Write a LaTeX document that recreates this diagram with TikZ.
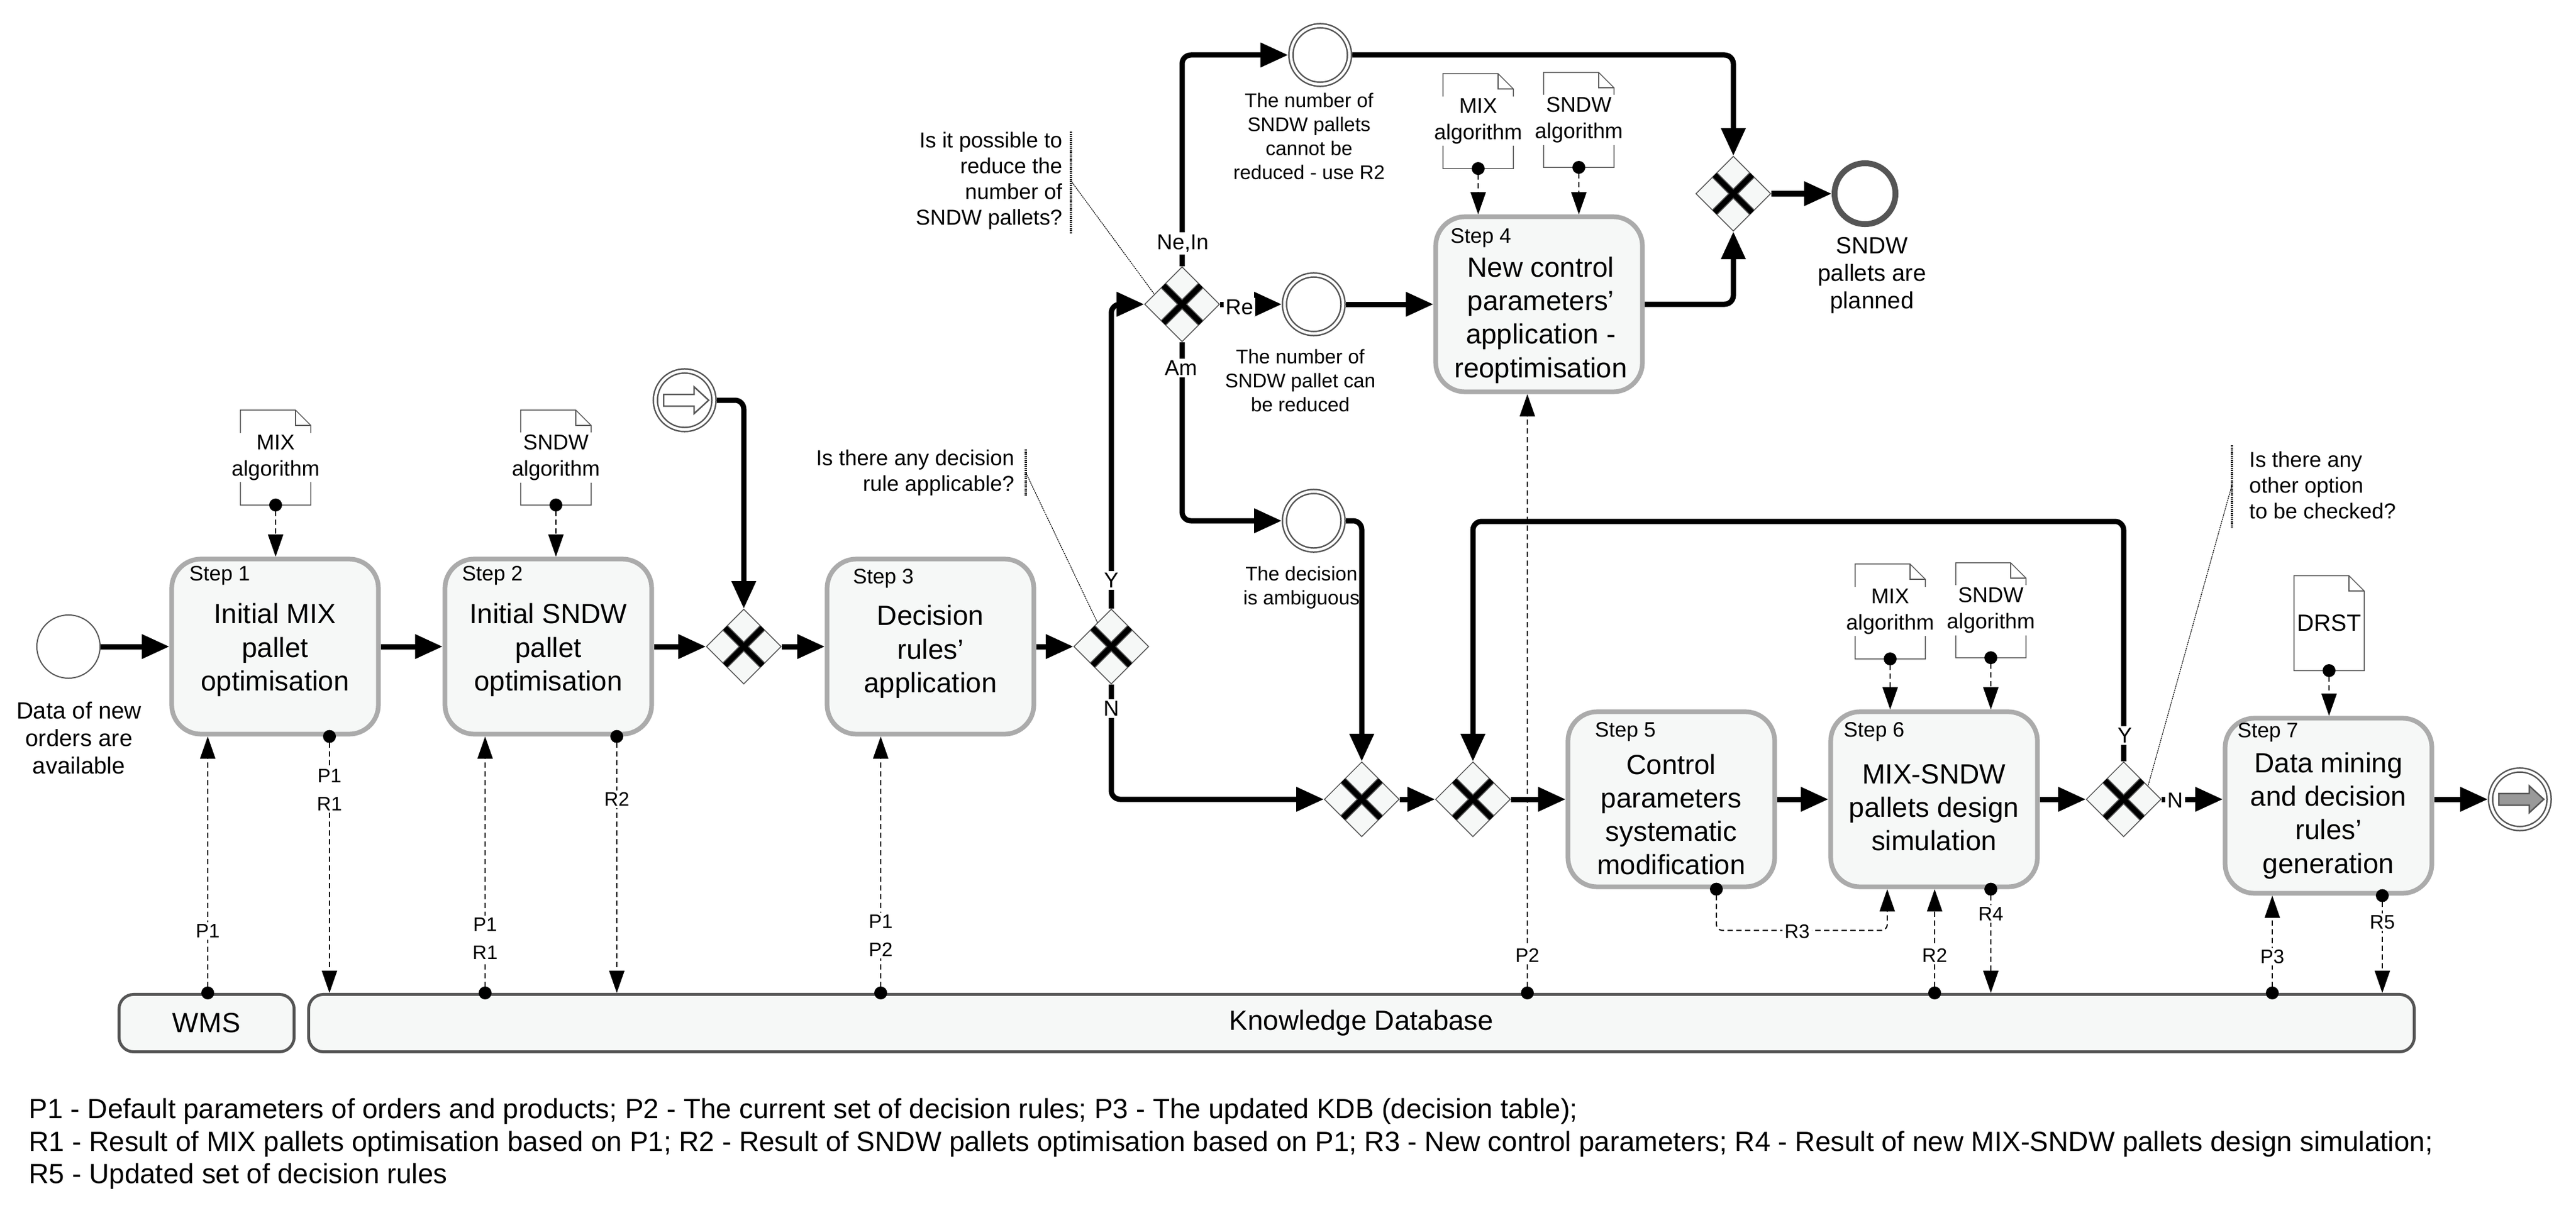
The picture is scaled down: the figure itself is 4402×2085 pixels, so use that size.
\documentclass[tikz,border=0pt]{standalone}
\usepackage{fontspec}
\setmainfont{Liberation Sans}
\usetikzlibrary{shapes.geometric, positioning, arrows.meta}

\definecolor{boxfill}{HTML}{F6F8F7}
\definecolor{boxline}{HTML}{ABABAB}
\definecolor{darkline}{HTML}{555555}

\begin{document}
\begin{tikzpicture}[
          x=0.01cm, y=-0.01cm,
          task/.style={draw=boxline, fill=boxfill, line width=0.08cm, rounded corners=0.5cm,
            minimum width=3.53cm, minimum height=2.99cm, inner sep=0pt},
          tasktxt/.style={align=center, inner sep=0pt, font=\fontsize{13.5}{16.3}\selectfont},
          stepno/.style={anchor=west, inner sep=0pt, font=\fontsize{10.2}{12}\selectfont},
          gate/.style={diamond, aspect=1, draw=darkline, line width=0.015cm, fill=boxfill,
            minimum width=1.28cm, minimum height=1.28cm, inner sep=0pt},
          xmark/.style={line width=0.09cm, black, preaction={draw=darkline, line width=0.125cm}},
          startev/.style={circle, draw=darkline, line width=0.02cm, fill=white, minimum size=1.08cm, inner sep=0pt},
          midev/.style={circle, draw=darkline, line width=0.025cm, double=white, double distance=0.045cm,
            fill=white, minimum size=1cm, inner sep=0pt, outer sep=0.0475cm},
          endev/.style={circle, draw=darkline, line width=0.1cm, fill=white, minimum size=1.04cm, inner sep=0pt},
          doc/.style={minimum width=1.2cm, minimum height=1.62cm, inner sep=0pt, outer sep=0pt},
          docline/.style={draw=darkline, line width=0.015cm},
          doctxt/.style={align=center, fill=white, inner sep=1pt, font=\fontsize{10.4}{12.8}\selectfont},
          store/.style={draw=darkline, fill=boxfill, line width=0.05cm, rounded corners=0.25cm,
            minimum height=0.98cm, inner sep=0pt, font=\fontsize{13.5}{16}\selectfont},
          flow/.style={line width=0.09cm, rounded corners=0.15cm, -{Triangle[length=0.47cm, width=0.4cm]}},
          assoc/.style={line width=0.02cm, dash pattern=on 0.09cm off 0.06cm, rounded corners=0.1cm,
            {Circle[length=0.22cm]}-{Triangle[length=0.38cm, width=0.26cm]}, shorten <=-0.11cm},
          bracket/.style={line width=0.04cm, dash pattern=on 0.02cm off 0.015cm},
          annlink/.style={line width=0.012cm, dash pattern=on 0.025cm off 0.012cm},
          anntxt/.style={inner sep=0pt, font=\fontsize{10.5}{12.5}\selectfont},
          evlbl/.style={anchor=north, align=center, inner sep=0pt, font=\fontsize{9.6}{11.7}\selectfont},
          bigevlbl/.style={anchor=north, align=center, inner sep=0pt, font=\fontsize{11.4}{13.4}\selectfont},
          gatelbl/.style={fill=white, inner sep=1pt, font=\fontsize{10.5}{12}\selectfont},
          alab/.style={fill=white, inner sep=1pt, align=center, font=\fontsize{9.5}{13.7}\selectfont}
        ]
        \useasboundingbox (0,0) rectangle (4402,2085);
        \fill[white] (0,0) rectangle (4402,2085);

        % events
        \node[startev] (se) at (117,1105) {};
        \node[bigevlbl] (sel) at (135,1199) {Data of new\\orders are\\available};
        \node[midev] (se2) at (1170,684) {};
        \node[midev] (c1) at (2256,94) {};
        \node[evlbl] (c1l) at (2237,158) {The number of\\SNDW pallets\\cannot be\\reduced - use R2};
        \node[midev] (c2) at (2245,520) {};
        \node[evlbl] (c2l) at (2222,596) {The number of\\SNDW pallet can\\be reduced};
        \node[midev] (c3) at (2245,890) {};
        \node[evlbl] (c3l) at (2224,967) {The decision\\is ambiguous};
        \node[endev] (ev) at (3187,331) {};
        \node[bigevlbl] (evl) at (3199,405) {SNDW\\pallets are\\planned};
        \node[midev] (ee) at (4306,1366) {};

        \draw[darkline, line width=0.025cm, fill=white] ([shift={(-36,-10)}]se2.center) -- ++(52,0) -- ++(0,-13)
          -- ++(25,23) -- ++(-25,23) -- ++(0,-13) -- ++(-52,0) -- cycle;
        \draw[darkline, line width=0.025cm, fill=black!40] ([shift={(-36,-10)}]ee.center) -- ++(52,0) -- ++(0,-13)
          -- ++(25,23) -- ++(-25,23) -- ++(0,-13) -- ++(-52,0) -- cycle;

        % tasks
        \node[task] (s1) at (470,1105) {};
        \node[tasktxt] (s1t) at (470,1111) {Initial MIX\\pallet\\optimisation};
        \node[stepno] (s1n) at (323,984) {Step 1};
        \node[task] (s2) at (937,1105) {};
        \node[tasktxt] (s2t) at (937,1111) {Initial SNDW\\pallet\\optimisation};
        \node[stepno] (s2n) at (789,984) {Step 2};
        \node[task] (s3) at (1590,1105) {};
        \node[tasktxt] (s3t) at (1590,1114) {Decision\\rules'\\application};
        \node[stepno] (s3n) at (1457,989) {Step 3};
        \node[task] (s4) at (2630,520) {};
        \node[tasktxt] (s4t) at (2633,547) {New control\\parameters'\\application -\\reoptimisation};
        \node[stepno] (s4n) at (2478,407) {Step 4};
        \node[task] (s5) at (2856,1366) {};
        \node[tasktxt] (s5t) at (2856,1392) {Control\\parameters\\systematic\\modification};
        \node[stepno] (s5n) at (2725,1251) {Step 5};
        \node[task] (s6) at (3305,1366) {};
        \node[tasktxt] (s6t) at (3305,1380) {MIX-SNDW\\pallets design\\simulation};
        \node[stepno] (s6n) at (3150,1251) {Step 6};
        \node[task] (s7) at (3979,1377) {};
        \node[tasktxt] (s7t) at (3979,1394) {Data mining\\and decision\\rules'\\generation};
        \node[stepno] (s7n) at (3823,1252) {Step 7};

        % gateways
        \node[gate] (g1) at (1271,1105) {};
        \node[gate] (g2) at (1899,1105) {};
        \node[gate] (g3) at (2020,520) {};
        \node[gate] (g4) at (2962,331) {};
        \node[gate] (g5) at (2327,1366) {};
        \node[gate] (g6) at (2517,1366) {};
        \node[gate] (g7) at (3629,1366) {};
        \foreach \g in {g1,g2,g3,g4,g5,g6,g7}
          \draw[xmark] ([shift={(-32,-32)}]\g.center) -- ([shift={(32,32)}]\g.center)
            ([shift={(-32,32)}]\g.center) -- ([shift={(32,-32)}]\g.center);

        % documents
        \node[doc] (d1) at (471,782) {};
        \node[doc] (d2) at (950,782) {};
        \node[doc] (d4a) at (2526,207) {};
        \node[doc] (d4b) at (2698,205) {};
        \node[doc] (d6a) at (3230,1045) {};
        \node[doc] (d6b) at (3402,1043) {};
        \node[doc] (d7) at (3980,1065) {};
        \foreach \d in {d1,d2,d4a,d4b,d6a,d6b,d7} {
          \draw[docline, fill=white] (\d.south west) -- (\d.north west) -- ([xshift=-0.26cm]\d.north east)
            -- ([yshift=-0.26cm]\d.north east) -- (\d.south east) -- cycle;
          \draw[docline] ([xshift=-0.26cm]\d.north east) -- ([xshift=-0.26cm, yshift=-0.26cm]\d.north east)
            -- ([yshift=-0.26cm]\d.north east);
        }
        \node[doctxt] (d1t) at (d1) {MIX\\algorithm};
        \node[doctxt] (d2t) at (d2) {SNDW\\algorithm};
        \node[doctxt] (d4at) at (d4a) {MIX\\algorithm};
        \node[doctxt] (d4bt) at (d4b) {SNDW\\algorithm};
        \node[doctxt] (d6at) at (d6a) {MIX\\algorithm};
        \node[doctxt] (d6bt) at (d6b) {SNDW\\algorithm};
        \node[doctxt, font=\fontsize{11.4}{13}\selectfont] (d7t) at (d7) {DRST};

        % data stores
        \node[store, minimum width=2.99cm] (wms) at (353,1748.5) {WMS};
        \node[store, minimum width=35.96cm] (kdb) at (2326.5,1748.5) {Knowledge Database};

        % sequence flows
        \draw[flow] (se) -- (s1);
        \draw[flow] (s1) -- (s2);
        \draw[flow] (s2) -- (g1);
        \draw[flow] (se2) -| (g1);
        \draw[flow] (g1) -- (s3);
        \draw[flow] (s3) -- (g2);
        \draw[flow] (g2) |- (g3);
        \draw[flow] (g2) |- (g5);
        \draw[flow] (g3) |- (c1);
        \draw[flow] (g3) -- (c2);
        \draw[flow] (g3) |- (c3);
        \draw[flow] (c1) -| (g4);
        \draw[flow] (c2) -- (s4);
        \draw[flow] (s4) -| (g4);
        \draw[flow] (g4) -- (ev);
        \draw[flow] (c3) -| (g5);
        \draw[flow] (g5) -- (g6);
        \draw[flow] (g6) -- (s5);
        \draw[flow] (s5) -- (s6);
        \draw[flow] (s6) -- (g7);
        \coordinate (back) at (3629,891);
        \draw[flow] (g7) -- (back) -| (g6);
        \draw[flow] (g7) -- (g7 -| s7.west);
        \draw[flow] (ee -| s7.east) -- (ee);

        % associations
        \foreach \d/\t in {d1/s1, d2/s2, d4a/s4, d4b/s4, d6a/s6, d6b/s6, d7/s7}
          \draw[assoc] (\d.south) -- (\d.south |- \t.north);
        \foreach \x/\a/\b in {355/wms/s1, 829/kdb/s2, 1505/kdb/s3, 2610/kdb/s4, 3306/kdb/s6, 3883/kdb/s7}
          \draw[assoc] (\x,0 |- \a.north) -- (\x,0 |- \b.south);
        \foreach \x/\t in {563/s1, 1054/s2, 3402/s6, 4071/s7}
          \draw[assoc] (\x,0 |- \t.south) -- (\x,0 |- kdb.north);
        \draw[assoc] (2933,0 |- s5.south) -- (2933,1590) -- (3225,1590) -- (3225,0 |- s6.south);

        \node[alab] (p1a) at (355,1591) {P1};
        \node[alab] (p1b) at (563,1350) {P1\\R1};
        \node[alab] (p1c) at (829,1604) {P1\\R1};
        \node[alab] (r2a) at (1054,1366) {R2};
        \node[alab] (p2a) at (1505,1599) {P1\\P2};
        \node[alab] (p2b) at (2610,1633) {P2};
        \node[alab] (r3) at (3071,1592) {R3};
        \node[alab] (r2b) at (3306,1633) {R2};
        \node[alab] (r4) at (3402,1562) {R4};
        \node[alab] (p3) at (3883,1635) {P3};
        \node[alab] (r5) at (4071,1576) {R5};

        % gateway labels
        \node[gatelbl] (g2y) at (1899,992) {Y};
        \node[gatelbl] (g2n) at (1899,1211) {N};
        \node[gatelbl] (g3u) at (2021,416) {Ne,In};
        \node[gatelbl] (g3d) at (2018,629) {Am};
        \node[gatelbl] (g3r) at (2118,525) {Re};
        \node[gatelbl] (g7y) at (3631,1257) {Y};
        \node[gatelbl] (g7n) at (3717,1368) {N};

        % annotations
        \node[anntxt, anchor=north east, align=right] (q1) at (1816,225) {Is it possible to\\reduce the\\number of\\SNDW pallets?};
        \draw[bracket] ([xshift=0.14cm]q1.north east) -- ([xshift=0.14cm, yshift=-0.06cm]q1.south east);
        \draw[annlink] ([xshift=0.14cm]q1.east) -- (g3.160);
        \node[anntxt, anchor=north east, align=right] (q2) at (1734,768) {Is there any decision\\rule applicable?};
        \draw[bracket] ([xshift=0.19cm]q2.north east) -- ([xshift=0.19cm]q2.south east);
        \draw[annlink] ([xshift=0.19cm]q2.east) -- (g2.120);
        \node[anntxt, anchor=north west, align=left] (q3) at (3843,771) {Is there any\\other option\\to be checked?};
        \draw[bracket] ([xshift=-0.29cm, yshift=0.1cm]q3.north west) -- ([xshift=-0.29cm, yshift=-0.15cm]q3.south west);
        \draw[annlink] ([xshift=-0.29cm]q3.west) -- (g7.29);

        % legend
        \node[anchor=north west, align=left, inner sep=0pt, font=\fontsize{13.5}{15.9}\selectfont] (legend) at (49,1876)
          {P1 - Default parameters of orders and products; P2 - The current set of decision rules; P3 - The updated KDB (decision table);\\
           R1 - Result of MIX pallets optimisation based on P1; R2 - Result of SNDW pallets optimisation based on P1; R3 - New control parameters; R4 - Result of new MIX-SNDW pallets design simulation;\\
           R5 - Updated set of decision rules};
        \end{tikzpicture}
\end{document}
